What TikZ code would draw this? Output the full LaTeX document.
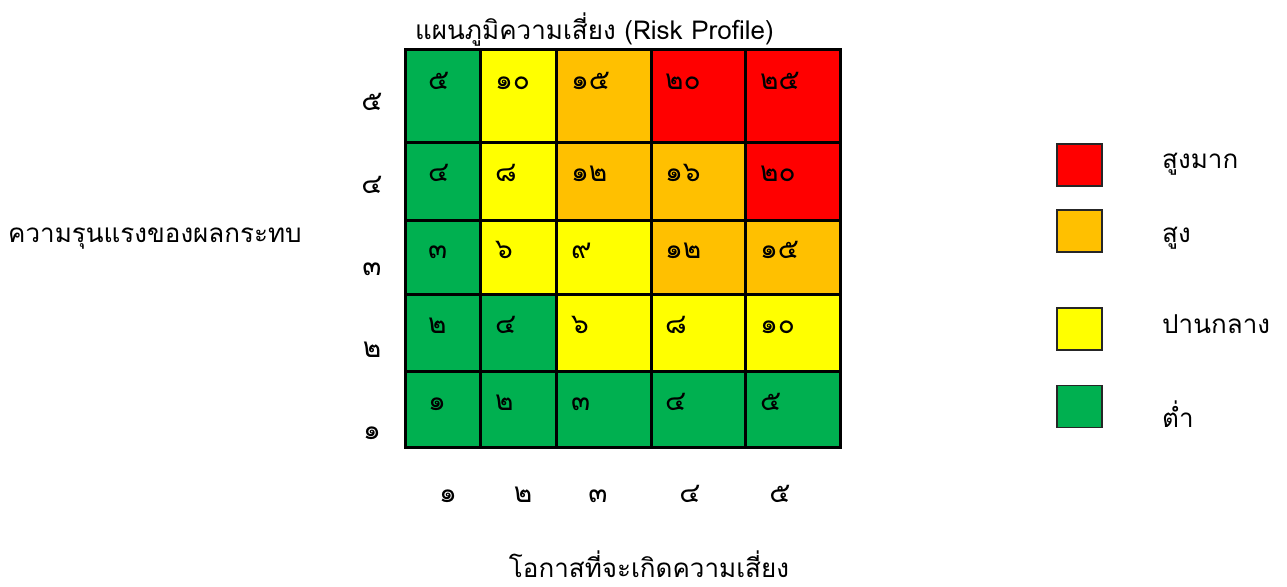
\documentclass[tikz,border=0pt]{standalone}
\usepackage{fontspec}
\newfontfamily\thaifont[Script=Thai]{Loma}
\definecolor{rgreen}{HTML}{00B050}
\definecolor{ryellow}{HTML}{FFFF00}
\definecolor{rorange}{HTML}{FFC000}
\definecolor{rred}{HTML}{FF0000}
\newcommand{\rcell}[5]{\fill[#5] (#1,#2) rectangle (#3,#4);}
\begin{document}
\begin{tikzpicture}[x=1pt,y=-1pt,
  txt/.style={font=\thaifont\fontsize{26}{30}\selectfont, inner sep=0pt, anchor=base west},
  num/.style={font=\thaifont\fontsize{28}{32}\selectfont, inner sep=0pt, anchor=base west},
  axnum/.style={font=\thaifont\fontsize{28}{32}\selectfont, inner sep=0pt, anchor=base},
  legbox/.style={draw=black!85, line width=1.5pt, minimum width=45pt, minimum height=42pt, inner sep=0pt}]
\useasboundingbox (0,0) rectangle (1287,586);
% cell fills
\rcell{405}{50}{480}{142}{rgreen}
\rcell{480}{50}{556}{142}{ryellow}
\rcell{556}{50}{651}{142}{rorange}
\rcell{651}{50}{745}{142}{rred}
\rcell{745}{50}{840}{142}{rred}
\rcell{405}{142}{480}{220}{rgreen}
\rcell{480}{142}{556}{220}{ryellow}
\rcell{556}{142}{651}{220}{rorange}
\rcell{651}{142}{745}{220}{rorange}
\rcell{745}{142}{840}{220}{rred}
\rcell{405}{220}{480}{294}{rgreen}
\rcell{480}{220}{556}{294}{ryellow}
\rcell{556}{220}{651}{294}{ryellow}
\rcell{651}{220}{745}{294}{rorange}
\rcell{745}{220}{840}{294}{rorange}
\rcell{405}{294}{480}{371}{rgreen}
\rcell{480}{294}{556}{371}{rgreen}
\rcell{556}{294}{651}{371}{ryellow}
\rcell{651}{294}{745}{371}{ryellow}
\rcell{745}{294}{840}{371}{ryellow}
\rcell{405}{371}{480}{447}{rgreen}
\rcell{480}{371}{556}{447}{rgreen}
\rcell{556}{371}{651}{447}{rgreen}
\rcell{651}{371}{745}{447}{rgreen}
\rcell{745}{371}{840}{447}{rgreen}
% grid lines
\draw[line width=3pt] (405,50) rectangle (840,447);
\foreach \gx in {480,556,651,745} \draw[line width=3pt] (\gx,50) -- (\gx,447);
\foreach \gy in {142,220,294,371} \draw[line width=3pt] (405,\gy) -- (840,\gy);
% cell values
\node[num] (v51) at (428,89) {๕};
\node[num] (v52) at (495,89) {๑๐};
\node[num] (v53) at (571,89) {๑๕};
\node[num] (v54) at (665,89) {๒๐};
\node[num] (v55) at (760,89) {๒๕};
\node[num] (v41) at (428,181) {๔};
\node[num] (v42) at (495,181) {๘};
\node[num] (v43) at (571,181) {๑๒};
\node[num] (v44) at (665,181) {๑๖};
\node[num] (v45) at (760,181) {๒๐};
\node[num] (v31) at (428,258) {๓};
\node[num] (v32) at (495,258) {๖};
\node[num] (v33) at (571,258) {๙};
\node[num] (v34) at (665,258) {๑๒};
\node[num] (v35) at (760,258) {๑๕};
\node[num] (v21) at (428,333) {๒};
\node[num] (v22) at (495,333) {๔};
\node[num] (v23) at (571,333) {๖};
\node[num] (v24) at (665,333) {๘};
\node[num] (v25) at (760,333) {๑๐};
\node[num] (v11) at (428,410) {๑};
\node[num] (v12) at (495,410) {๒};
\node[num] (v13) at (571,410) {๓};
\node[num] (v14) at (665,410) {๔};
\node[num] (v15) at (760,410) {๕};
% axis numbers
\node[axnum] (s5) at (372,110) {๕};
\node[axnum] (s4) at (372,193) {๔};
\node[axnum] (s3) at (372,275) {๓};
\node[axnum] (s2) at (372,357) {๒};
\node[axnum] (s1) at (372,439) {๑};
\node[axnum] (l1) at (448,502) {๑};
\node[axnum] (l2) at (523,502) {๒};
\node[axnum] (l3) at (598,502) {๓};
\node[axnum] (l4) at (690,502) {๔};
\node[axnum] (l5) at (780,502) {๕};
% titles
\node[txt] (title) at (415,40) {แผนภูมิความเสี่ยง (Risk Profile)};
\node[txt] (ylab) at (8,242) {ความรุนแรงของผลกระทบ};
\node[txt, anchor=base] (xlab) at (649,577) {โอกาสที่จะเกิดความเสี่ยง};
% legend
\node[legbox, fill=rred] (kred) at (1079.5,165) {};
\node[legbox, fill=rorange] (korange) at (1079.5,231) {};
\node[legbox, fill=ryellow] (kyellow) at (1079.5,329) {};
\node[legbox, fill=rgreen] (kgreen) at (1079.5,406.5) {};
\node[txt] (tred) at (1162,168) {สูงมาก};
\node[txt] (torange) at (1162,242) {สูง};
\node[txt] (tyellow) at (1162,333) {ปานกลาง};
\node[txt] (tgreen) at (1162,427) {ต่ำ};
\end{tikzpicture}
\end{document}
